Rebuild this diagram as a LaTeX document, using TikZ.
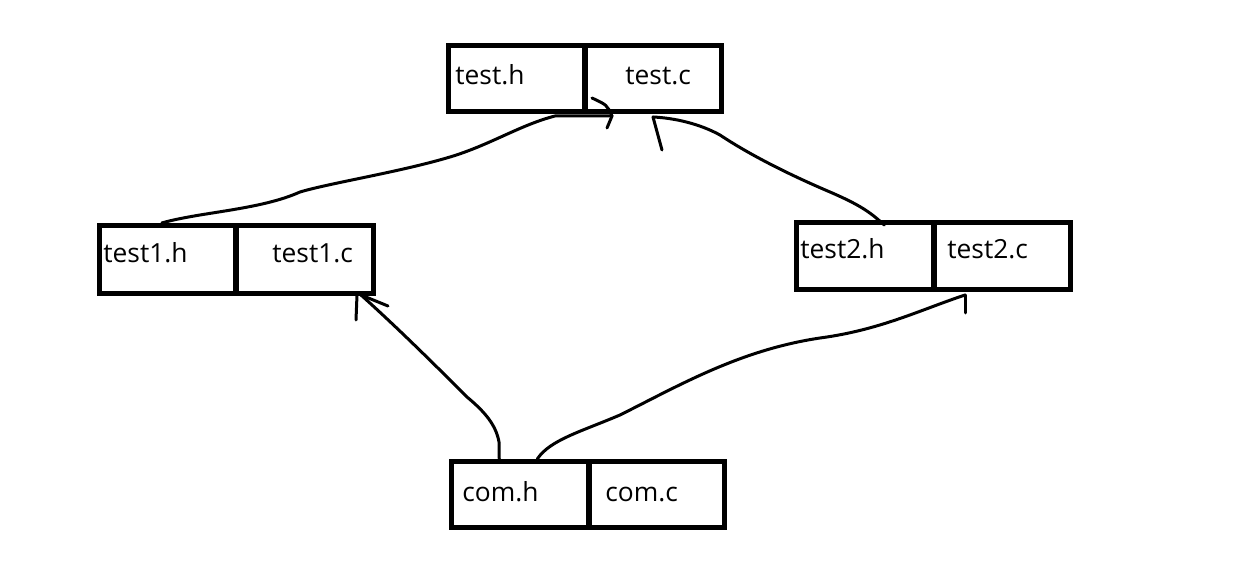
\documentclass[tikz,border=0pt]{standalone}
\usepackage{fontspec}
\setmainfont{Open Sans}
\begin{document}
\begin{tikzpicture}[x=0.02cm,y=-0.02cm,
  half/.style={draw,line width=0.1cm,rectangle,inner sep=0pt,minimum height=#1},
  half/.default=1.32cm,
  lbl/.style={anchor=base west,inner sep=0pt,font=\fontsize{15}{18}\selectfont},
  conn/.style={line width=0.06cm,line cap=round,line join=round}]
\useasboundingbox (0,0) rectangle (1259,577);
% test
\node[half,minimum width=2.73cm] (th) at (516.75,78.5) {};
\node[half,minimum width=2.73cm] (tc) at (653.25,78.5) {};
% test1
\node[half=1.36cm,minimum width=2.73cm] (t1h) at (167.75,259.5) {};
\node[half=1.36cm,minimum width=2.75cm] (t1c) at (304.75,259.5) {};
% test2
\node[half=1.34cm,minimum width=2.75cm] (t2h) at (865.25,256) {};
\node[half=1.34cm,minimum width=2.73cm] (t2c) at (1002.25,256) {};
% com
\node[half,minimum width=2.75cm] (ch) at (520.25,494.5) {};
\node[half,minimum width=2.71cm] (cc) at (656.75,494.5) {};
% labels
\node[lbl] (lth) at (455,85) {test.h};
\node[lbl] (ltc) at (625,85) {test.c};
\node[lbl] (lt1h) at (103,263) {test1.h};
\node[lbl] (lt1c) at (272,263) {test1.c};
\node[lbl] (lt2h) at (800,259) {test2.h};
\node[lbl] (lt2c) at (947,259) {test2.c};
\node[lbl] (lch) at (462,502) {com.h};
\node[lbl] (lcc) at (605,502) {com.c};
% arrow tips
\coordinate (tip1) at (612,116);
\coordinate (tip2) at (653,117);
\coordinate (tip3) at (361,295);
\coordinate (tip4) at (965,295);
% test1.h -> test.c
\draw[conn] ([xshift=-0.12cm]t1h.north) .. controls (200,212) and (260,210) .. (300,192)
  .. controls (330,183) and (400,172) .. (450,157)
  .. controls (490,145) and (520,125) .. (555,116) -- (tip1);
\draw[conn] (592,98) .. controls (607,105) .. (tip1) -- (607,128);
% test2.h -> test.c
\draw[conn] ([xshift=0.38cm,yshift=-0.1cm]t2h.north) .. controls (870,212) and (860,205) .. (830,192)
  .. controls (790,175) and (750,155) .. (720,135)
  .. controls (700,124) and (675,118) .. (tip2);
\draw[conn] (tip2) -- (662,150);
% com.h -> test1.c
\draw[conn] ([xshift=-0.42cm]ch.north) -- (499,442) .. controls (496,425) and (485,412) .. (467,397)
  .. controls (440,370) and (400,330) .. (tip3);
\draw[conn] (357,295) -- (356,320);
\draw[conn] (tip3) .. controls (375,300) .. (388,306);
% com.h -> test2.c
\draw[conn] ([xshift=0.34cm]ch.north) .. controls (550,440) and (580,432) .. (620,415)
  .. controls (680,385) and (740,350) .. (820,338)
  .. controls (880,330) and (920,310) .. (tip4);
\draw[conn] (tip4) -- (965,313);
\end{tikzpicture}
\end{document}
